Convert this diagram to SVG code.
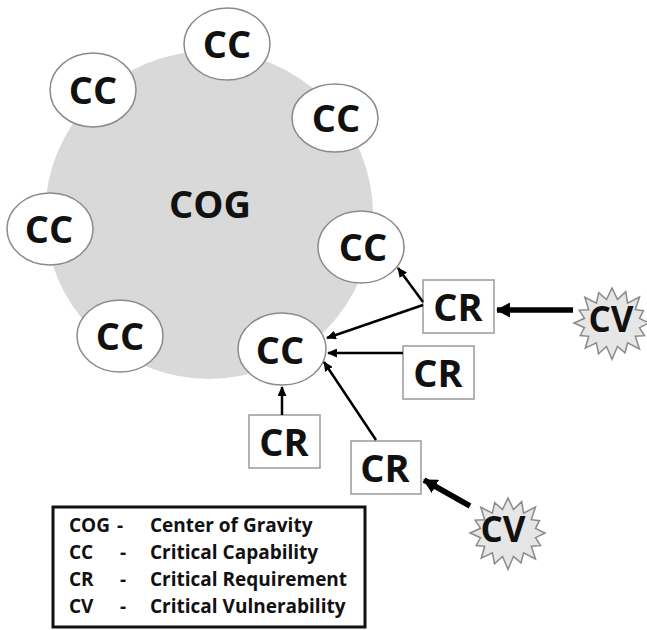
<svg xmlns="http://www.w3.org/2000/svg" width="647" height="630" viewBox="0 0 647 630">
  <style>
    .lbl { font-family: "Open Sans", "Liberation Sans", sans-serif; font-weight: 700; font-size: 38px; fill: #111; text-anchor: middle; }
    .cvt { font-size: 35px; }
    .cc { fill: #fff; stroke: #8a8a8a; stroke-width: 1.5; }
    .cr { fill: #fff; stroke: #9a9a9a; stroke-width: 1.5; }
    .cv { fill: #e6e6e6; stroke: #8a8a8a; stroke-width: 1.5; }
    .thin { stroke: #000; stroke-width: 2.5; fill: none; marker-end: url(#head); }
    .thick { stroke: #000; stroke-width: 5.5; fill: none; marker-end: url(#bighead); }
    .key { font-family: "Open Sans", "Liberation Sans", sans-serif; font-weight: 700; font-size: 19px; fill: #111; }
  </style>
  <defs>
    <marker id="head" markerUnits="userSpaceOnUse" markerWidth="10" markerHeight="9" refX="9" refY="4.5" orient="auto">
      <path d="M0,0 L10,4.5 L0,9 z" fill="#000"/>
    </marker>
    <marker id="bighead" markerUnits="userSpaceOnUse" markerWidth="14" markerHeight="15" refX="13" refY="7.5" orient="auto">
      <path d="M0,0 L14,7.5 L0,15 z" fill="#000"/>
    </marker>
    <!-- sixteen-point starburst, centred on 0,0 -->
    <polygon id="burst" points="37,0 27.5,4.7 32.5,12.7 23.3,13.3 27.5,26 15.6,19.9 13,29.8 5.5,23.5 0,36.4 -5.5,23.5 -13.5,30.7 -15.6,19.9 -26.7,25.2 -23.3,13.3 -31.8,12.5 -27.5,4.7 -38,0 -27.5,-4.7 -32.8,-12.9 -23.3,-13.3 -27.2,-25.7 -15.6,-19.9 -13.3,-30.4 -5.5,-23.5 0,-35 5.5,-23.5 13.7,-31.4 15.6,-19.9 27.5,-26 23.3,-13.3 31.5,-12.3 27.5,-4.7"/>
  </defs>

  <!-- center of gravity -->
  <g id="cog">
    <circle cx="209" cy="215" r="164" fill="#d9d9d9"/>
    <text class="lbl" x="210" y="218">COG</text>
  </g>

  <!-- critical capabilities -->
  <g id="cc-top"><ellipse class="cc" cx="227" cy="44" rx="43" ry="36"/><text class="lbl" x="227" y="58">CC</text></g>
  <g id="cc-topleft"><ellipse class="cc" cx="93" cy="90" rx="43" ry="37"/><text class="lbl" x="93" y="104">CC</text></g>
  <g id="cc-topright"><ellipse class="cc" cx="335" cy="118" rx="43" ry="34"/><text class="lbl" x="336" y="132">CC</text></g>
  <g id="cc-left"><ellipse class="cc" cx="50" cy="229" rx="43" ry="36"/><text class="lbl" x="49" y="243">CC</text></g>
  <g id="cc-right"><ellipse class="cc" cx="361" cy="247" rx="43" ry="36"/><text class="lbl" x="363" y="261">CC</text></g>
  <g id="cc-bottomleft"><ellipse class="cc" cx="120" cy="336" rx="43" ry="36"/><text class="lbl" x="120" y="350">CC</text></g>
  <g id="cc-bottom"><ellipse class="cc" cx="282" cy="349" rx="44" ry="36"/><text class="lbl" x="280" y="364">CC</text></g>

  <!-- critical requirements -->
  <g id="cr-1"><rect class="cr" x="423" y="280" width="71" height="53"/><text class="lbl" x="458" y="321">CR</text></g>
  <g id="cr-2"><rect class="cr" x="403" y="346" width="71" height="53"/><text class="lbl" x="438" y="387">CR</text></g>
  <g id="cr-3"><rect class="cr" x="249" y="415" width="71" height="53"/><text class="lbl" x="284" y="456">CR</text></g>
  <g id="cr-4"><rect class="cr" x="351" y="441" width="70" height="53"/><text class="lbl" x="385" y="482">CR</text></g>

  <!-- critical vulnerabilities -->
  <g id="cv-1"><use href="#burst" class="cv" transform="translate(612,323)"/><text class="lbl cvt" x="611" y="332">CV</text></g>
  <g id="cv-2"><use href="#burst" class="cv" transform="translate(508,533)"/><text class="lbl cvt" x="503" y="542">CV</text></g>

  <!-- connectors -->
  <g id="connectors">
    <line class="thin" x1="423" y1="302" x2="398" y2="268"/>
    <line class="thin" x1="423" y1="305" x2="327" y2="338"/>
    <line class="thin" x1="403" y1="353" x2="328" y2="353"/>
    <line class="thin" x1="376" y1="440" x2="324" y2="362"/>
    <line class="thin" x1="282" y1="415" x2="282" y2="387"/>
    <line class="thick" x1="573" y1="310" x2="497" y2="310"/>
    <line class="thick" x1="470" y1="506" x2="424" y2="480"/>
  </g>

  <!-- legend -->
  <g id="legend">
    <rect x="53" y="507" width="312" height="120" fill="#fff" stroke="#111" stroke-width="3"/>
    <text class="key" x="69" y="532">COG</text><text class="key" x="117" y="532">-</text><text class="key" x="150" y="532">Center of Gravity</text>
    <text class="key" x="69" y="559">CC</text><text class="key" x="120" y="559">-</text><text class="key" x="150" y="559">Critical Capability</text>
    <text class="key" x="69" y="586">CR</text><text class="key" x="120" y="586">-</text><text class="key" x="150" y="586">Critical Requirement</text>
    <text class="key" x="69" y="613">CV</text><text class="key" x="120" y="613">-</text><text class="key" x="150" y="613">Critical Vulnerability</text>
  </g>
</svg>
